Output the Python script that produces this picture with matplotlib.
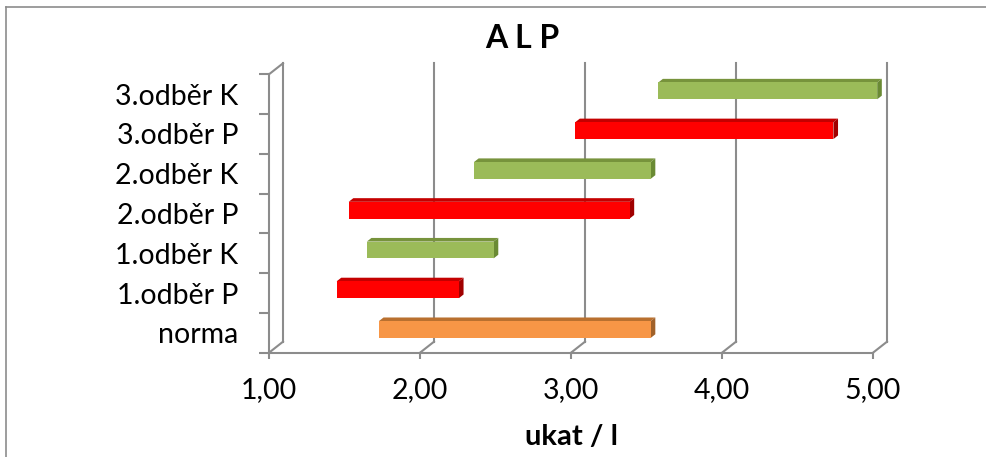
import matplotlib
matplotlib.use("Agg")
import matplotlib.pyplot as plt
from matplotlib.patches import Polygon
import numpy as np

plt.rcParams['font.family'] = ['Lato', 'DejaVu Sans']

# ---- data ----
categories = ["norma", "1.odběr P", "1.odběr K", "2.odběr P", "2.odběr K", "3.odběr P", "3.odběr K"]
starts = [1.70, 1.42, 1.62, 1.50, 2.33, 3.00, 3.55]
ends = [3.50, 2.23, 2.46, 3.36, 3.50, 4.71, 5.00]
kinds = ["norma", "P", "K", "P", "K", "P", "K"]
xticks = [1.0, 2.0, 3.0, 4.0, 5.0]
xticklabels = ["1,00", "2,00", "3,00", "4,00", "5,00"]
title = "A L P"
xlabel = "ukat / l"

colors = {
    "norma": ("#F79646", "#B9702F", "#A0612A"),
    "P": ("#FF0000", "#C40000", "#A00000"),
    "K": ("#9BBB59", "#77933C", "#6A8A34"),
}

W, H, DPI = 987, 457, 100
fig = plt.figure(figsize=(W / DPI, H / DPI), dpi=DPI)

# front plane of the plot in pixels
x0px, x1px = 269, 873
ybot_px, ytop_px = 352.7, 74.3
ax = fig.add_axes([x0px / W, 1 - ybot_px / H, (x1px - x0px) / W, (ybot_px - ytop_px) / H])
ax.set_xlim(1, 5)
ax.set_ylim(-0.5, len(categories) - 0.5)
for s in ax.spines.values():
    s.set_visible(False)

pxx = (x1px - x0px) / 4.0           # px per value unit
pxy = (ybot_px - ytop_px) / len(categories)  # px per category

# depth offsets (in data units)
back_dx, back_dy = 14 / pxx, 11 / pxy
bar_d0 = 0.30
bar_dd = 0.33
grid_c = "#8C8C8C"
lw = 1.5

ymin, ymax = -0.5, len(categories) - 0.5
for xv in xticks:
    ax.plot([xv + back_dx, xv + back_dx], [ymin + back_dy, ymax + back_dy], color=grid_c, lw=lw, clip_on=False, zorder=1)
    ax.plot([xv, xv + back_dx], [ymin, ymin + back_dy], color=grid_c, lw=lw, clip_on=False, zorder=1)
ax.plot([1, 1], [ymin, ymax], color=grid_c, lw=lw, clip_on=False, zorder=1)
ax.plot([1, 1 + back_dx], [ymax, ymax + back_dy], color=grid_c, lw=lw, clip_on=False, zorder=1)
ax.plot([1, 5], [ymin, ymin], color=grid_c, lw=lw, clip_on=False, zorder=1)

# bars
ypos = np.arange(len(categories))
bh = 16.8 / pxy
fdx, fdy = bar_d0 * back_dx, bar_d0 * back_dy
ddx, ddy = bar_dd * back_dx, bar_dd * back_dy
for i, (s, e, k) in enumerate(zip(starts, ends, kinds)):
    front, top, side = colors[k]
    yc = ypos[i] + fdy
    yb, yt = yc - bh / 2, yc + bh / 2
    xs, xe = s + fdx, e + fdx
    ax.add_patch(Polygon([[xs, yt], [xe, yt], [xe + ddx, yt + ddy], [xs + ddx, yt + ddy]],
                         closed=True, facecolor=top, edgecolor="none", zorder=3, clip_on=False))
    ax.add_patch(Polygon([[xe, yb], [xe + ddx, yb + ddy], [xe + ddx, yt + ddy], [xe, yt]],
                         closed=True, facecolor=side, edgecolor="none", zorder=3, clip_on=False))
    ax.barh(yc, e - s, left=xs, height=bh, color=front, edgecolor="none", zorder=4, clip_on=False)

# ticks
ax.set_xticks(xticks)
ax.set_xticklabels(xticklabels, fontsize=20.5)
ax.tick_params(axis="x", direction="out", length=4.5, width=lw, color=grid_c, pad=13)
ax.set_yticks(ypos)
ax.set_yticklabels(categories, fontsize=20.5)
ax.set_yticks(np.arange(len(categories) + 1) - 0.5, minor=True)
ax.tick_params(axis="y", which="major", length=0, pad=22)
ax.tick_params(axis="y", which="minor", direction="out", length=7.2, width=lw, color=grid_c)
ax.set_xlabel(xlabel, fontsize=21, fontweight="bold", va="center")
ax.xaxis.set_label_coords((572 - x0px) / (x1px - x0px), (ybot_px - 437) / (ybot_px - ytop_px))

fig.text(522 / W, 1 - 38 / H, title, ha="center", va="center", fontsize=23, fontweight="bold")

# chart border (top and left visible)
fig.add_artist(plt.Line2D([6 / W, 6 / W], [0, 1 - 7 / H], color="#8C8C8C", lw=1.2))
fig.add_artist(plt.Line2D([6 / W, 1], [1 - 7 / H, 1 - 7 / H], color="#8C8C8C", lw=1.2))

fig.savefig("out.png", dpi=DPI)
